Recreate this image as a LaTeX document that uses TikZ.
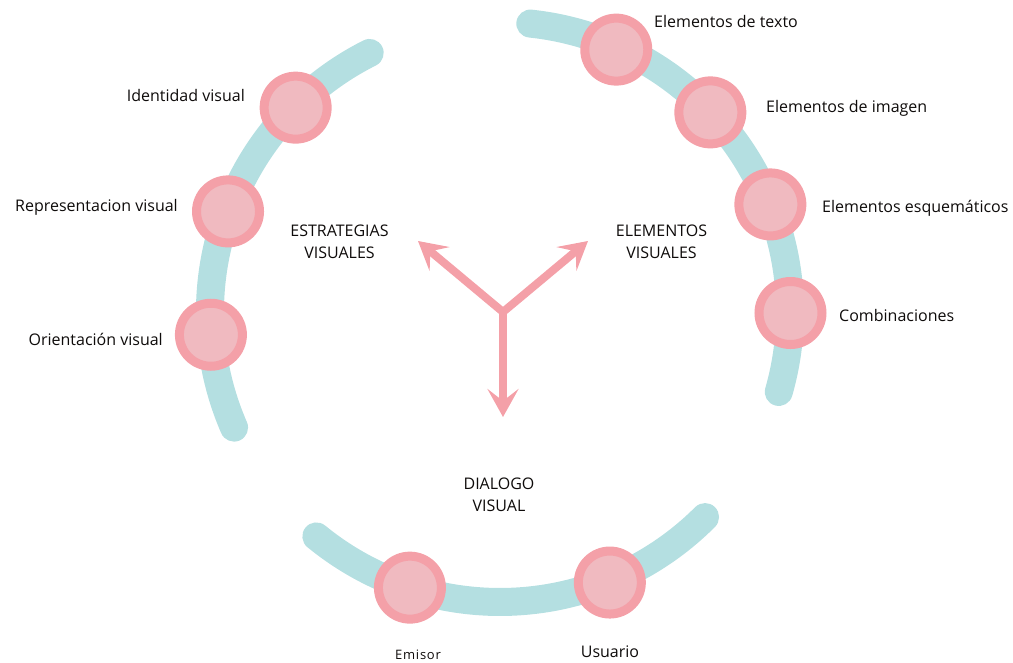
\documentclass[tikz,border=0pt]{standalone}
\usepackage{fontspec}
\setmainfont{Open Sans}
\usetikzlibrary{arrows.meta}
\definecolor{tealarc}{HTML}{B4DFE1}
\definecolor{ringpink}{HTML}{F4A0A8}
\definecolor{innerpink}{HTML}{F0BAC0}
\definecolor{txt}{HTML}{0E0B0A}
\tikzset{
  arcband/.style={line width=28pt, draw=tealarc, line cap=round},
  dot/.style={circle, inner sep=0pt, minimum size=63pt, line width=9pt, draw=ringpink, fill=innerpink},
  lab/.style={font=\fontsize{16}{22}\selectfont, text=txt, inner sep=0pt},
  head/.style={font=\fontsize{16}{22}\selectfont, text=txt, inner sep=0pt, align=center},
  yarrow/.style={draw=ringpink, line width=8pt, -{Stealth[length=28pt,width=31pt,inset=12pt]}}
}
\begin{document}
\begin{tikzpicture}[x=1pt,y=1pt]
\useasboundingbox (0,0) rectangle (1013,-663);
\coordinate (O) at (500,-312);
% arcs
\draw[arcband] ([shift={(116.7:290)}]O) arc[start angle=116.7, end angle=203.5, radius=290];
\draw[arcband] ([shift={(84:290)}]O) arc[start angle=84, end angle=-16, radius=290];
\draw[arcband] ([shift={(230.7:290)}]O) arc[start angle=230.7, end angle=315, radius=290];
% circles
\node[dot] (idv) at ([shift={(135:289)}]O) {};
\node[dot] (rep) at ([shift={(159.7:290)}]O) {};
\node[dot] (ori) at ([shift={(184.5:290)}]O) {};
\node[dot] (tex) at ([shift={(66.1:287)}]O) {};
\node[dot] (ima) at ([shift={(43.5:290)}]O) {};
\node[dot] (esq) at ([shift={(21.7:291)}]O) {};
\node[dot] (com) at ([shift={(-0.2:290.5)}]O) {};
\node[dot] (emi) at ([shift={(251.9:290)}]O) {};
\node[dot] (usu) at ([shift={(292.1:292)}]O) {};
% labels
\node[lab, anchor=base east] (lidv) at (245,-102) {Identidad visual};
\node[lab, anchor=base east] (lrep) at (178,-212) {Representacion visual};
\node[lab, anchor=base east] (lori) at (163,-345) {Orientación visual};
\node[lab, anchor=base west] (ltex) at (654,-28) {Elementos de texto};
\node[lab, anchor=base west] (lima) at (766,-113) {Elementos de imagen};
\node[lab, anchor=base west] (lesq) at (822,-213) {Elementos esquemáticos};
\node[lab, anchor=base west] (lcom) at (839,-322) {Combinaciones};
\node[lab, anchor=base, font=\fontsize{13}{16}\selectfont\addfontfeature{LetterSpace=6}] (lemi) at (418,-659) {Emisor};
\node[lab, anchor=base] (lusu) at (610,-657) {Usuario};
\node[head] (hest) at (339.5,-242) {ESTRATEGIAS\\VISUALES};
\node[head] (hele) at (661.5,-242) {ELEMENTOS\\VISUALES};
\node[head] (hdia) at (499,-495) {DIALOGO\\VISUAL};
% Y arrows
\coordinate (J) at (503,-312);
\coordinate (tipL) at (418,-241);
\coordinate (tipR) at (588,-241);
\coordinate (tipD) at (503,-417);
\draw[yarrow] (J) -- (tipD);
\draw[yarrow, {Stealth[length=28pt,width=31pt,inset=12pt]}-{Stealth[length=28pt,width=31pt,inset=12pt]}] (tipL) -- (J) -- (tipR);
\end{tikzpicture}
\end{document}
